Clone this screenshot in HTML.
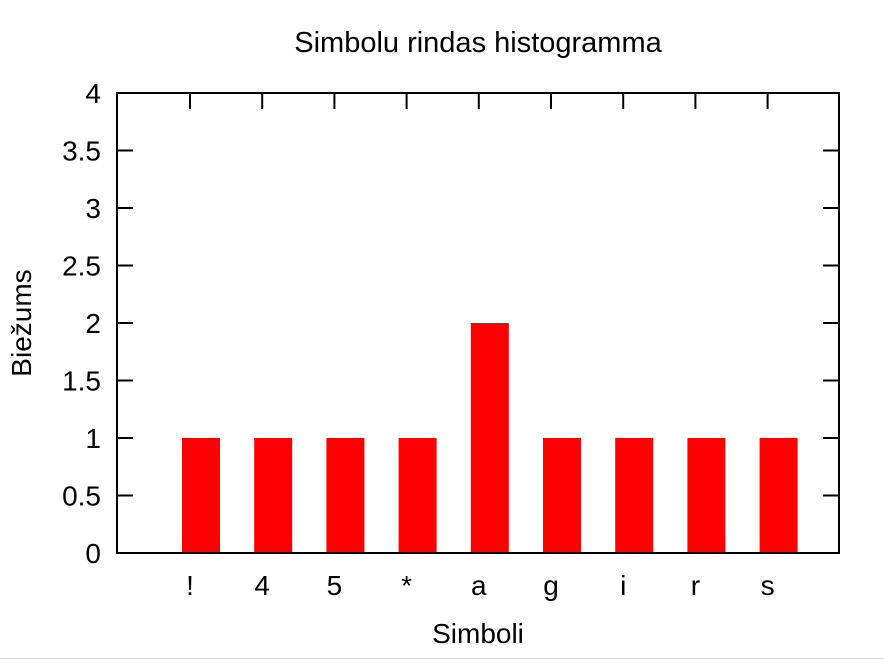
<!DOCTYPE html>
<html><head><meta charset="utf-8"><style>
body{margin:0;background:#fff;width:884px;height:661px;overflow:hidden}
text{font-family:"Liberation Sans",Arial,sans-serif;fill:#000}
</style></head><body>
<svg id="chart" width="884" height="661" xmlns="http://www.w3.org/2000/svg">
<text x="478" y="52" font-size="29" text-anchor="middle">Simbolu rindas histogramma</text>
<text transform="translate(31,323) rotate(-90)" font-size="28" text-anchor="middle">Biežums</text>
<text x="478" y="643" font-size="28" text-anchor="middle">Simboli</text>
<g id="marks"></g>
<rect x="117" y="93" width="722" height="460" fill="none" stroke="#000" stroke-width="2"/>
<line x1="0" y1="658.5" x2="884" y2="658.5" stroke="#ddd" stroke-width="1"/>
</svg>
<script>
const categories = ["!", "4", "5", "*", "a", "g", "i", "r", "s"];
const counts = [1, 1, 1, 1, 2, 1, 1, 1, 1];
const yTicks = [0, 0.5, 1, 1.5, 2, 2.5, 3, 3.5, 4];
const yTickLabels = ["0", "0.5", "1", "1.5", "2", "2.5", "3", "3.5", "4"];
const NS = "http://www.w3.org/2000/svg";
const L = 117, R = 839, T = 93, B = 553;
function y(v) { return B - (v / 4) * (B - T); }
function xc(i) { return 201 + i * 72.2; }
const g = document.getElementById('marks');
function mk(tag, attrs) { const e = document.createElementNS(NS, tag); for (const k in attrs) e.setAttribute(k, attrs[k]); g.appendChild(e); return e; }
yTicks.forEach((v, i) => {
  const yy = y(v);
  let t = mk('line', {x1: L, x2: L + 16, y1: yy, y2: yy, stroke: '#000', 'stroke-width': 2});
  
  
  t = mk('line', {x1: R - 16, x2: R, y1: yy, y2: yy, stroke: '#000', 'stroke-width': 2});
  
  
  const lb = mk('text', {x: 101, y: yy + 10, 'font-size': 28, 'text-anchor': 'end'});
  lb.textContent = yTickLabels[i];
  
  
});
categories.forEach((c, i) => {
  const cx = xc(i);
  const tx = cx - 11;
  const tk = mk('line', {x1: tx, x2: tx, y1: T, y2: T + 16, stroke: '#000', 'stroke-width': 2});
  
  
  const b = mk('rect', {x: cx - 19, y: y(counts[i]), width: 38, height: B - y(counts[i]), fill: '#ff0000'});
  
  
  const lb = mk('text', {x: tx, y: 595, 'font-size': 28, 'text-anchor': 'middle'});
  lb.textContent = c;
  
  
});
</script>
</body></html>
